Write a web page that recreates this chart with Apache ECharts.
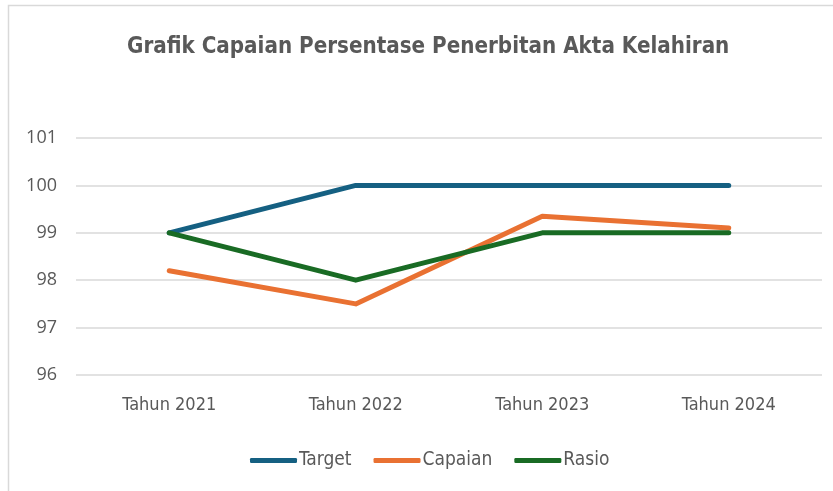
<!DOCTYPE html>
<html>
<head>
<meta charset="utf-8">
<script src="https://cdn.jsdelivr.net/npm/echarts@6/dist/echarts.min.js"></script>
<style>
  html, body { margin: 0; padding: 0; background: #fff; }
  #chart { width: 833px; height: 491px; }
</style>
</head>
<body>
<div id="chart"></div>
<script>
// data
var categories = ['Tahun 2021', 'Tahun 2022', 'Tahun 2023', 'Tahun 2024'];
var target = [99, 100, 100, 100];
var capaian = [98.2, 97.5, 99.35, 99.1];
var rasio = [99, 98, 99, 99];

var narrow = '"DejaVu Sans Condensed", sans-serif';

var myChart = echarts.init(document.getElementById('chart'));

function lineSeries(name, data, color) {
    return {
        name: name,
        type: 'line',
        data: data,
        symbol: 'none',
        lineStyle: { color: color, width: 5, cap: 'round', join: 'round' },
        itemStyle: { color: color },
        emphasis: { disabled: true }
    };
}

var option = {
    backgroundColor: '#fff',
    animation: false,
    title: {
        text: 'Grafik Capaian Persentase Penerbitan Akta Kelahiran',
        left: 122,
        top: 31,
        textStyle: {
            fontFamily: narrow,
            fontWeight: 'bold',
            fontSize: 22.2,
            color: '#595959'
        }
    },
    graphic: [
        {
            // chart frame
            type: 'rect',
            shape: { x: 8.5, y: 5.5, width: 900, height: 600 },
            style: { fill: null, stroke: '#d9d9d9', lineWidth: 1.5 },
            silent: true
        }
    ],
    legend: {
        bottom: 16,
        left: 245,
        itemWidth: 47,
        itemHeight: 5,
        itemGap: 22,
        icon: 'roundRect',
        textStyle: { fontFamily: narrow, fontSize: 19, color: '#595959', padding: [0, 0, 0, -3] },
        data: ['Target', 'Capaian', 'Rasio']
    },
    grid: { left: 76, right: 11, top: 138, bottom: 116 },
    xAxis: {
        type: 'category',
        data: categories,
        boundaryGap: true,
        axisLine: { show: false },
        axisTick: { show: false },
        axisLabel: { fontFamily: narrow, fontSize: 18, color: '#595959', margin: 21 }
    },
    yAxis: {
        type: 'value',
        min: 96,
        max: 101,
        interval: 1,
        axisLine: { show: false },
        axisTick: { show: false },
        axisLabel: { fontFamily: '"Open Sans", sans-serif', fontSize: 18, color: '#595959', margin: 19 },
        splitLine: { lineStyle: { color: '#d9d9d9', width: 1.5 } }
    },
    series: [
        lineSeries('Target', target, '#156082'),
        lineSeries('Capaian', capaian, '#E97132'),
        lineSeries('Rasio', rasio, '#196B24')
    ]
};

myChart.setOption(option);
</script>
</body>
</html>
